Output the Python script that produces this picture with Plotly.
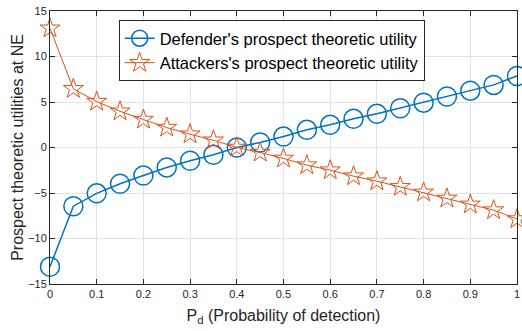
import plotly.graph_objects as go

pd_vals = [0, 0.05, 0.1, 0.15, 0.2, 0.25, 0.3, 0.35, 0.4, 0.45, 0.5,
           0.55, 0.6, 0.65, 0.7, 0.75, 0.8, 0.85, 0.9, 0.95, 1.0]
defender = [-13.1, -6.45, -5.04, -3.98, -3.07, -2.19, -1.46, -0.8, 0.0, 0.55, 1.2,
            1.94, 2.49, 3.15, 3.7, 4.32, 4.93, 5.6, 6.25, 6.88, 7.86]
attacker = [13.1, 6.45, 5.04, 3.98, 3.07, 2.19, 1.46, 0.8, 0.0, -0.55, -1.2,
            -1.94, -2.49, -3.15, -3.7, -4.32, -4.93, -5.6, -6.25, -6.88, -7.86]

blue = "#0072BD"
orange = "#D95319"
font_family = "Liberation Sans, Arial, Helvetica, sans-serif"

fig = go.Figure()
fig.add_trace(go.Scatter(
    x=pd_vals, y=defender, mode="lines+markers",
    name="Defender's prospect theoretic utility",
    line=dict(color=blue, width=1.5),
    marker=dict(symbol="circle-open", size=19, color=blue, line=dict(width=1.5, color=blue)),
    cliponaxis=False,
))
fig.add_trace(go.Scatter(
    x=pd_vals, y=attacker, mode="lines+markers",
    name="Attackers's prospect theoretic utility",
    line=dict(color=orange, width=1),
    marker=dict(symbol="star-open", size=15, color=orange, line=dict(width=1, color=orange)),
    cliponaxis=False,
))

axis_common = dict(
    showline=True, linecolor="#262626", linewidth=1, mirror="ticks",
    ticks="inside", ticklen=5, tickcolor="#262626", tickwidth=1,
    showgrid=True, gridcolor="#e3e3e3", gridwidth=1,
    zeroline=False, ticklabeloverflow="allow",
    tickfont=dict(family=font_family, size=11, color="#262626"),
)

fig.update_layout(
    width=522, height=331,
    margin=dict(l=50, r=2, t=11, b=47),
    paper_bgcolor="white", plot_bgcolor="white",
    font=dict(family=font_family, color="#262626"),
    xaxis=dict(range=[0, 1], dtick=0.1, tick0=0,
               title=dict(text="P<sub>d</sub> (Probability of detection)",
                          font=dict(size=16, color="#262626"), standoff=10),
               **axis_common),
    yaxis=dict(range=[-15, 15], dtick=5, tick0=-15,
               title=dict(text="Prospect theoretic utilities at NE",
                          font=dict(size=16, color="#262626"), standoff=0),
               **axis_common),
    legend=dict(x=0.147, y=0.967, xanchor="left", yanchor="top",
                bgcolor="white", bordercolor="#262626", borderwidth=1,
                font=dict(size=16.5, color="#000000"),
                tracegroupgap=0, itemwidth=30),
    showlegend=True,
)

fig.write_html("out.html", config={"displayModeBar": False},
               post_script="document.body.style.margin='0px';")
